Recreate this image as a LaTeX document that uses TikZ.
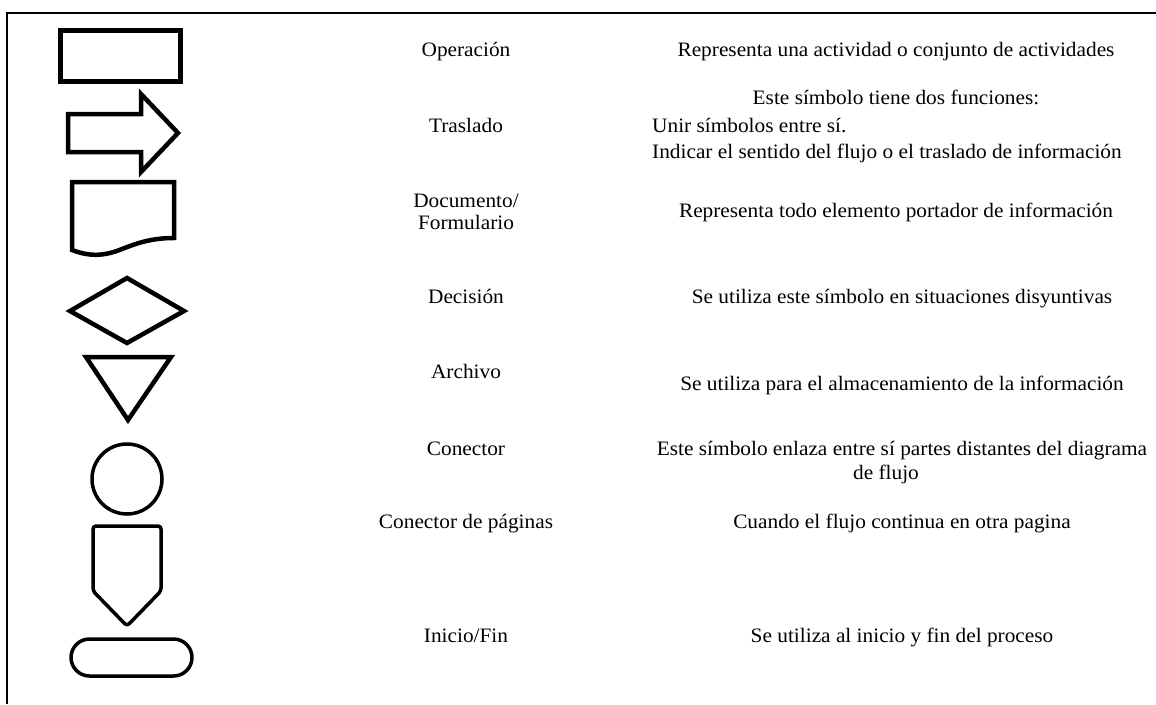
\documentclass[tikz,border=0pt]{standalone}
\usepackage{fontspec}
\setmainfont{Liberation Serif}[FakeStretch=1.04]
\begin{document}
\begin{tikzpicture}[x=1pt,y=-1pt,
  sym/.style={line width=4.5pt, line join=miter},
  symthin/.style={line width=3.5pt, line join=round},
  lbl/.style={anchor=base, inner sep=0pt, font=\fontsize{20.5}{24}\selectfont},
  lblw/.style={anchor=base west, inner sep=0pt, font=\fontsize{20.5}{24}\selectfont}]
\useasboundingbox (0,0) rectangle (1156,704);
% frame
\draw[line width=2pt] (1156,13) -- (7,13) -- (7,704);
% symbols
\draw[sym, line width=5pt] (60,30) rectangle (180,81);
\draw[sym] (68,114) -- (141,114) -- (141,94) -- (178,133) -- (141,172) -- (141,152) -- (68,152) -- cycle;
\draw[sym] (72,250) -- (72,182) -- (174,182) -- (174,238)
   .. controls (150,238) and (135,244) .. (122,249)
   .. controls (105,256) and (90,257) .. (72,250) -- cycle;
\draw[sym] (70,311) -- (127,278) -- (184,311) -- (127,343) -- cycle;
\draw[sym] (86,357) -- (171,357) -- (128,420) -- cycle;
\draw[symthin] (127,479) circle (35);
\draw[symthin, rounded corners=3pt] (93,526) -- (161,526) -- (161,591) -- (127,626) -- (93,591) -- cycle;
\draw[symthin, rounded corners=18.5pt] (71,639) rectangle (192,676);
% names
\node[lbl] (n1) at (466,56) {Operación};
\node[lbl] (n2) at (466,132) {Traslado};
\node[lbl] (n3a) at (466,207) {Documento/};
\node[lbl] (n3b) at (466,229) {Formulario};
\node[lbl] (n4) at (466,303) {Decisión};
\node[lbl] (n5) at (466,378) {Archivo};
\node[lbl] (n6) at (466,455) {Conector};
\node[lbl] (n7) at (466,528) {Conector de páginas};
\node[lbl] (n8) at (466,642) {Inicio/Fin};
% descriptions
\node[lbl] (d1) at (896,56) {Representa una actividad o conjunto de actividades};
\node[lbl] (d2a) at (896,104) {Este símbolo tiene dos funciones:};
\node[lblw] (d2b) at (652,132) {Unir símbolos entre sí.};
\node[lblw] (d2c) at (652,158) {Indicar el sentido del flujo o el traslado de información};
\node[lbl] (d3) at (896,217) {Representa todo elemento portador de información};
\node[lbl] (d4) at (902,303) {Se utiliza este símbolo en situaciones disyuntivas};
\node[lbl] (d5) at (902,390) {Se utiliza para el almacenamiento de la información};
\node[lbl] (d6a) at (902,455) {Este símbolo enlaza entre sí partes distantes del diagrama};
\node[lbl] (d6b) at (886,479) {de flujo};
\node[lbl] (d7) at (902,528) {Cuando el flujo continua en otra pagina};
\node[lbl] (d8) at (902,642) {Se utiliza al inicio y fin del proceso};
\end{tikzpicture}
\end{document}
